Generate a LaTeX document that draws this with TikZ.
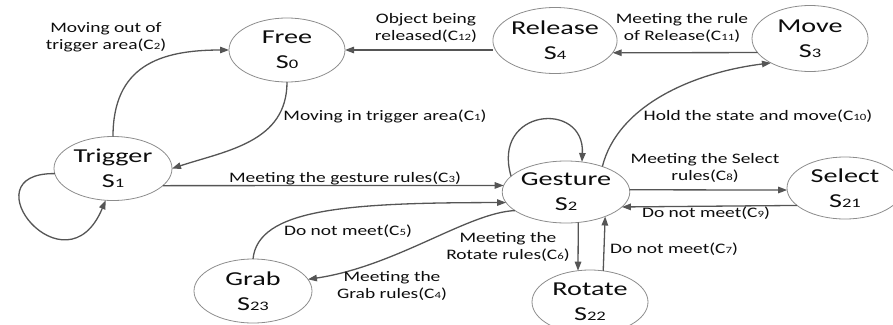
\documentclass[tikz,border=0pt]{standalone}
\usepackage{fontspec}
\setmainfont{Carlito}
\usepackage{graphicx}
\usetikzlibrary{arrows.meta,shapes.geometric}

\definecolor{stategray}{HTML}{8C8C8C}
\definecolor{edgegray}{HTML}{555555}
\definecolor{textc}{HTML}{0D0D0D}

% widened lettering used throughout the chart
\newcommand\wideL[1]{\scalebox{1.34}[1]{#1}}
\newcommand\wideN[1]{\scalebox{1.43}[1]{#1}}
% small digits sitting on the baseline
\newcommand\dg[1]{\scalebox{0.66}{#1}}

\tikzset{
  state/.style={ellipse, draw=stategray, line width=0.8pt,
    minimum width=116pt, minimum height=64pt, inner sep=0pt, outer sep=0pt,
    font=\fontsize{19.7}{25}\selectfont, text=textc, align=center},
  lbl/.style={font=\fontsize{14.5}{17}\selectfont, align=center,
    inner sep=0pt, text=textc},
  trans/.style={draw=edgegray, line width=1.3pt,
    -{Triangle[length=9pt,width=6.5pt]}},
}

\begin{document}
\begin{tikzpicture}[x=1pt,y=-1pt]
\clip (0,0) rectangle (893,324);

% states
\node[state] (Free)    at (287,50)    {\wideN{Free}\\\wideN{S\dg{0}}};
\node[state, minimum height=66pt] (Release) at (555,40.5) {\wideN{Release}\\\wideN{S\dg{4}}};
\node[state, minimum height=66pt] (Move)    at (810,38.5) {\wideN{Move}\\\wideN{S\dg{3}}};
\node[state, minimum width=118pt] (Trigger) at (113,168.5) {\wideN{Trigger}\\\wideN{S\dg{1}}};
\node[state, minimum height=62pt] (Gesture) at (566,192) {\wideN{Gesture}\\\wideN{S\dg{2}}};
\node[state, minimum height=62pt] (Select)  at (845,188) {\wideN{Select}\\\wideN{S\dg{21}}};
\node[state] (Rotate)  at (590,302) {\wideN{Rotate}\\\wideN{S\dg{22}}};
\node[state, minimum width=118pt] (Grab)    at (253,291) {\wideN{Grab}\\\wideN{S\dg{23}}};

% transitions
\draw[trans] (Trigger.north) .. controls +(0,-70) and +(-70,0) .. (Free.west);
\draw[trans] (Free.south) .. controls +(0,60) and +(55,-18) .. (Trigger.east);
\draw[trans] (Release.west |- Free.east) -- (Free.east);
\draw[trans] (Move.195) -- (Release.-12.5);
\draw[trans] (Gesture.35) .. controls +(15,-60) and +(-80,10) .. (Move.212);
\draw[trans] (Gesture.164) .. controls +(-20,-68) and +(3,-62) .. (Gesture.62);
\draw[trans] (Trigger.185) .. controls +(-89,-1) and +(-40,96) .. (Trigger.257);
\draw[trans] (Trigger.-19.6) -- (Gesture.174);
\draw[trans] (Grab.north) .. controls +(5,-50) and +(-160,0) .. (Gesture.190);
\draw[trans] (Gesture.200) .. controls +(-47,2) and +(88,-13) .. (Grab.12);
\draw[trans] (Gesture.-68.4) -- (Rotate.111);
\draw[trans] (Rotate.67.4) -- (Gesture.-32.9);
\draw[trans] (Gesture.2) -- (Select.182);
\draw[trans] (Select.200.9) -- (Gesture.-15.2);

% transition conditions
\node[lbl] (c2)  at (106,37)  {\wideL{Moving out of}\\\wideL{trigger area(C\dg{2})}};
\node[lbl] (c1)  at (385,116) {\wideL{Moving in trigger area(C\dg{1})}};
\node[lbl] (c12) at (426,28)  {\wideL{Object being}\\\wideL{released(C\dg{12})}};
\node[lbl] (c11) at (682,28)  {\wideL{Meeting the rule}\\\wideL{of Release(C\dg{11})}};
\node[lbl] (c10) at (758,116) {\wideL{Hold the state and move(C\dg{10})}};
\node[lbl] (c3)  at (345,178) {\wideL{Meeting the gesture rules(C\dg{3})}};
\node[lbl] (c8)  at (705,168) {\wideL{Meeting the Select}\\\wideL{rules(C\dg{8})}};
\node[lbl] (c9)  at (706,213) {\wideL{Do not meet(C\dg{9})}};
\node[lbl] (c5)  at (348,231) {\wideL{Do not meet(C\dg{5})}};
\node[lbl] (c4)  at (392,286) {\wideL{Meeting the}\\\wideL{Grab rules(C\dg{4})}};
\node[lbl] (c6)  at (508,247) {\wideL{Meeting the}\\\wideL{Rotate rules(C\dg{6})}};
\node[lbl] (c7)  at (674,249) {\wideL{Do not meet(C\dg{7})}};
\end{tikzpicture}
\end{document}
